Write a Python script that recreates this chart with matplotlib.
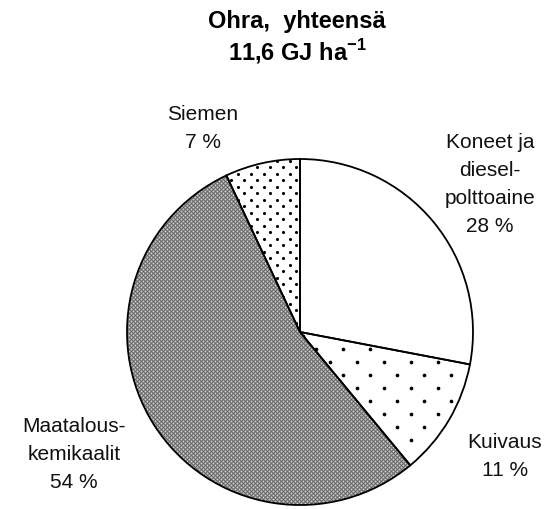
import numpy as np
import matplotlib.pyplot as plt

plt.rcParams['font.family'] = ['Liberation Sans', 'DejaVu Sans']
plt.rcParams['mathtext.fontset'] = 'custom'
plt.rcParams['mathtext.rm'] = 'Liberation Sans'
plt.rcParams['mathtext.bf'] = 'Liberation Sans:bold'

# Energiapanokset, ohra
osat = ['Koneet ja\ndiesel-\npolttoaine', 'Kuivaus', 'Maatalous-\nkemikaalit', 'Siemen']
osuudet = [28, 11, 54, 7]
otsikko = 'Ohra,  yhteensä\n11,6 GJ ha$^{\\mathbf{-1}}$'

fig = plt.figure(figsize=(5.52, 5.10), dpi=100)
ax = fig.add_axes([0, 0, 1, 1])

keski = (300, 177)
sade = 173
wedges, _ = ax.pie(osuudet, startangle=90, counterclock=False, center=keski, radius=sade,
                   colors=['white', 'white', '#5e5e5e', 'white'],
                   wedgeprops=dict(linewidth=0))
# reunaviivat päälle
ax.pie(osuudet, startangle=90, counterclock=False, center=keski, radius=sade,
       wedgeprops=dict(fill=False, edgecolor='black', linewidth=1.3, zorder=5))
ax.set_xlim(0, 552)
ax.set_ylim(0, 510)
ax.set_aspect('equal')
ax.axis('off')


# pistekuviot (rasteri) leikattuna sektoreihin
def pisteet(w, dx, dy, koko, vari):
    ys = np.arange(keski[1] - sade, keski[1] + sade, dy)
    xx, yy = [], []
    for i, y in enumerate(ys):
        x0 = keski[0] - sade + (dx / 2 if i % 2 else 0)
        xs = np.arange(x0, keski[0] + sade, dx)
        xx.extend(xs)
        yy.extend([y] * len(xs))
    sc = ax.scatter(xx, yy, s=koko, c=vari, linewidths=0, zorder=3)
    sc.set_clip_path(w)


pisteet(wedges[1], 27, 13, 7, 'black')
pisteet(wedges[3], 13, 6.5, 5, 'black')
pisteet(wedges[2], 4, 2, 2.2, '#d0d0d0')

ax.text(297, 472, otsikko, ha='center', va='center', fontsize=17, fontweight='bold',
        linespacing=1.2)

tyyli = dict(ha='center', va='center', fontsize=15, color='#111111', linespacing=1.6)
ax.text(490, 325, osat[0] + '\n%d %%' % osuudet[0], **tyyli)
ax.text(505, 53, osat[1] + '\n%d %%' % osuudet[1], **tyyli)
ax.text(74, 55, osat[2] + '\n%d %%' % osuudet[2], **tyyli)
ax.text(203, 382, osat[3] + '\n%d %%' % osuudet[3], **tyyli)

fig.savefig('out.png', dpi=100)
